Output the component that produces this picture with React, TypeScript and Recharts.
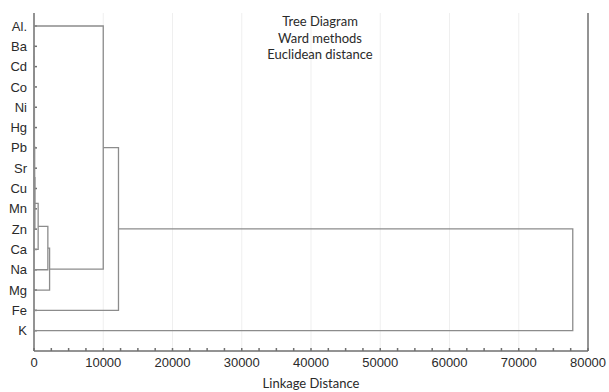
import React from "react";
import {
  ScatterChart,
  Scatter,
  XAxis,
  YAxis,
  ReferenceLine,
} from "recharts";

// leaves in dendrogram order (top to bottom)
const leaves = ["Al.", "Ba", "Cd", "Co", "Ni", "Hg", "Pb", "Sr", "Cu", "Mn", "Zn", "Ca", "Na", "Mg", "Fe", "K"];

// Ward linkage table: ids < 16 are leaves, id 16 + k is merge k
const mergeLeft = [1, 16, 4, 6, 18, 17, 21, 22, 23, 24, 25, 26, 0, 28, 29];
const mergeRight = [2, 3, 5, 7, 19, 20, 8, 9, 10, 11, 12, 13, 27, 14, 15];
const mergeHeight = [6, 15, 8, 20, 35, 45, 60, 90, 130, 600, 2000, 2250, 10000, 12200, 77800];

const xTicks = [
  0, 2500, 5000, 7500, 10000, 12500, 15000, 17500, 20000, 22500, 25000, 27500, 30000, 32500, 35000, 37500,
  40000, 42500, 45000, 47500, 50000, 52500, 55000, 57500, 60000, 62500, 65000, 67500, 70000, 72500, 75000,
  77500, 80000,
];
const gridLines = [10000, 20000, 30000, 40000, 50000, 60000, 70000];
const titleLines = ["Tree Diagram", "Ward methods", "Euclidean distance"];

const n = leaves.length;
const pos = (id, nodes) => (id < n ? { x: 0, y: id } : nodes[id - n]);

const buildLinks = () => {
  const nodes = [];
  const links = [];
  mergeHeight.forEach((h, k) => {
    const a = pos(mergeLeft[k], nodes);
    const b = pos(mergeRight[k], nodes);
    links.push([
      { x: a.x, y: a.y },
      { x: h, y: a.y },
      { x: h, y: b.y },
      { x: b.x, y: b.y },
    ]);
    nodes.push({ x: h, y: (a.y + b.y) / 2 });
  });
  return links;
};

const links = buildLinks();
const rowTicks = leaves.map((_, i) => i);
const yDomain = [-0.64, 16];

const axisFont = { fontFamily: "'Liberation Sans', Arial, sans-serif", fontSize: 13, fill: "#2a2a2a" };
const axisColor = "#6f6f6f";
const linkColor = "#8c8c8c";

const NoDot = () => <g />;

export default function App() {
  return (
    <div style={{ position: "absolute", left: 0, top: 0, width: 609, height: 392, background: "#fff" }}>
      <ScatterChart width={609} height={392} margin={{ top: 13, right: 0, bottom: 0, left: 0 }}>
        <XAxis
          type="number"
          dataKey="x"
          domain={[0, 80000]}
          ticks={xTicks}
          interval={0}
          tickFormatter={(v) => (v % 10000 === 0 ? String(v) : "")}
          tickSize={-3}
          tickMargin={10}
          height={41}
          stroke={axisColor}
          strokeWidth={1.5}
          tick={axisFont}
          label={{
            value: "Linkage Distance",
            position: "insideBottom",
            offset: 4,
            style: { fontFamily: "Lato, 'Open Sans', sans-serif", fontSize: 13, fill: "#2a2a2a" },
          }}
        />
        <YAxis
          yAxisId="left"
          type="number"
          dataKey="y"
          domain={yDomain}
          reversed
          ticks={rowTicks}
          interval={0}
          tickFormatter={(i) => leaves[i]}
          tickSize={-3}
          tickMargin={10}
          width={34}
          stroke={axisColor}
          strokeWidth={1.5}
          tick={axisFont}
          allowDataOverflow
        />
        <YAxis
          yAxisId="right"
          orientation="right"
          type="number"
          domain={yDomain}
          reversed
          ticks={rowTicks}
          interval={0}
          tick={false}
          tickSize={-3}
          width={21}
          stroke={axisColor}
          strokeWidth={1.5}
          allowDataOverflow
        />
        {gridLines.map((g) => (
          <ReferenceLine key={g} x={g} yAxisId="left" stroke="#efefef" strokeWidth={1} />
        ))}
        {links.map((pts, i) => (
          <Scatter
            key={i}
            yAxisId="left"
            data={pts}
            line={{ stroke: linkColor, strokeWidth: 1.3 }}
            lineType="joint"
            shape={NoDot}
            fill="none"
            isAnimationActive={false}
          />
        ))}
      </ScatterChart>
      <div
        style={{
          position: "absolute",
          left: 220,
          width: 200,
          top: 13,
          textAlign: "center",
          fontFamily: "Lato, 'Open Sans', sans-serif",
          fontSize: 13,
          lineHeight: "16.5px",
          color: "#2a2a2a",
          pointerEvents: "none",
        }}
      >
        {titleLines.map((t) => (
          <div key={t}>{t}</div>
        ))}
      </div>
    </div>
  );
}
